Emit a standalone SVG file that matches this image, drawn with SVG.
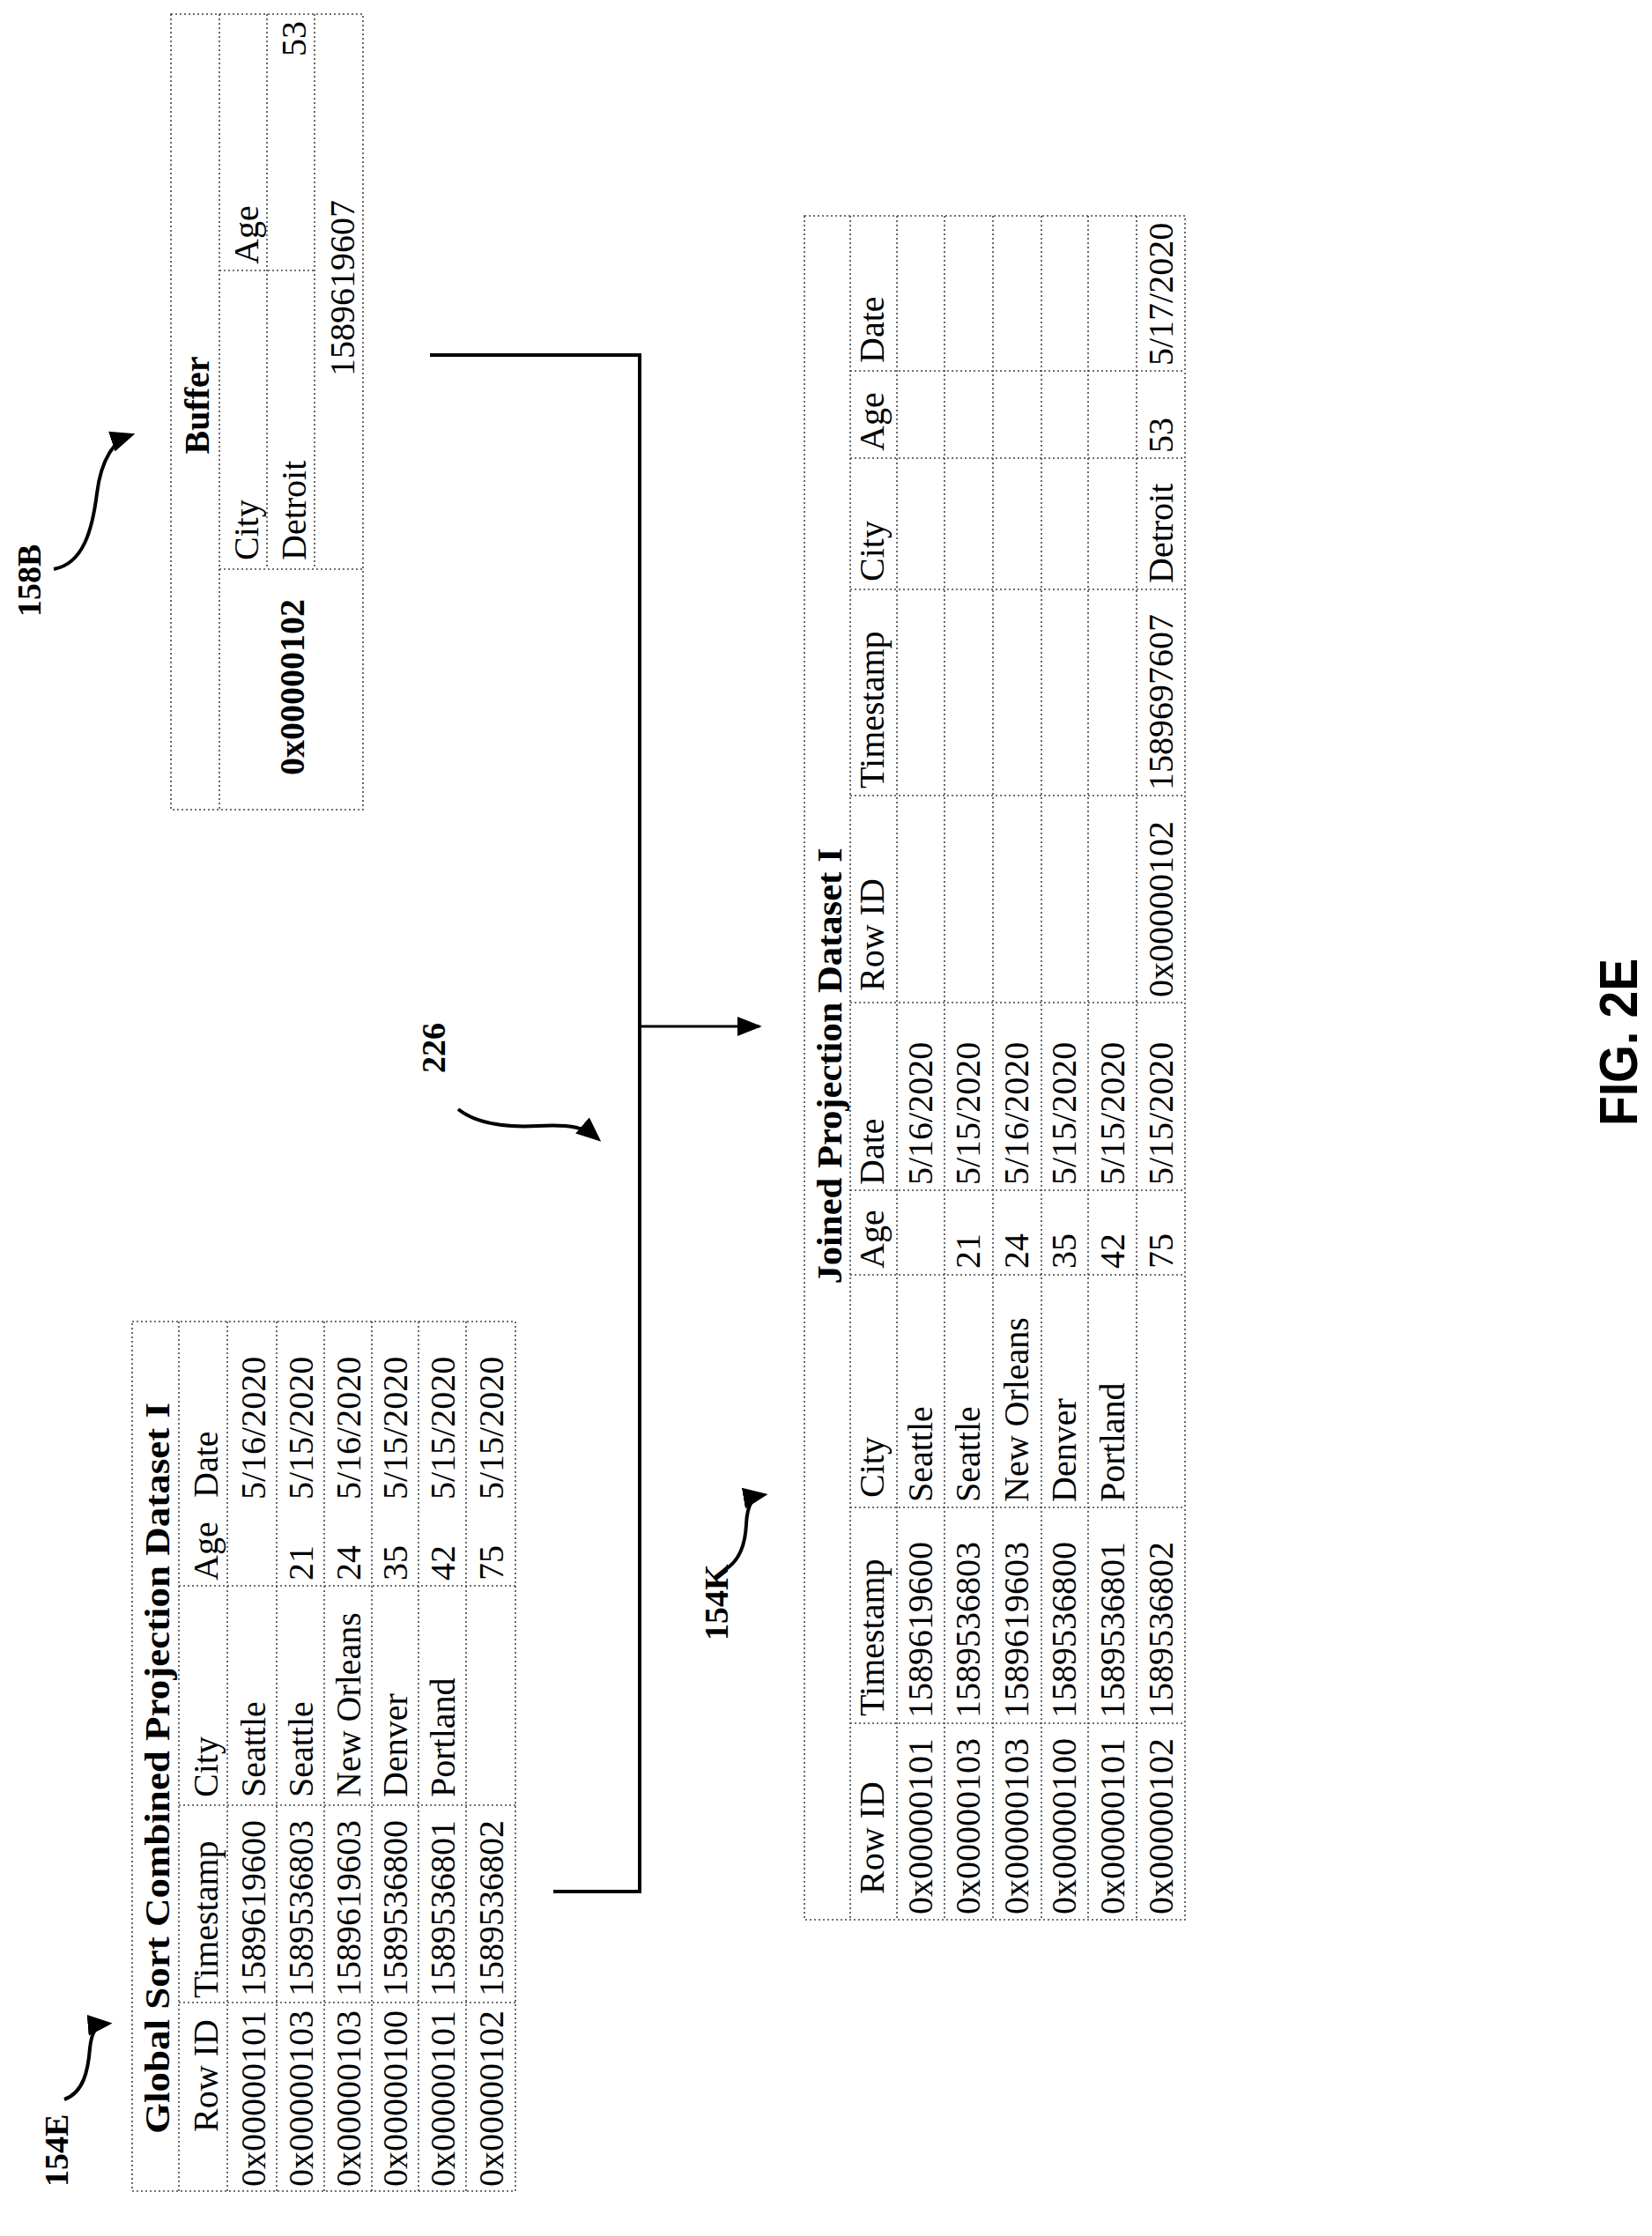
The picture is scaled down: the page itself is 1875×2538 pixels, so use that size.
<svg xmlns="http://www.w3.org/2000/svg" width="1875" height="2538" viewBox="0 0 1875 2538">
<style>
.t{font-family:"Liberation Serif",serif;font-size:40px;fill:#000}
.b{font-weight:bold}
.lbl{font-family:"Liberation Serif",serif;font-size:38px;font-weight:bold;fill:#000}
.g{stroke:#444;stroke-width:1.6;stroke-dasharray:2 3;fill:none}
.c{stroke:#000;stroke-width:4;fill:none}
.sq{stroke:#000;stroke-width:4;fill:none}
</style>
<defs>
<marker id="ah" viewBox="0 0 10 10" refX="9" refY="5" markerWidth="28" markerHeight="22" markerUnits="userSpaceOnUse" orient="auto" preserveAspectRatio="none">
<path d="M0,0 L10,5 L0,10 z" fill="#000"/>
</marker>
<marker id="ah2" viewBox="0 0 10 10" refX="8" refY="5" markerWidth="28" markerHeight="24" markerUnits="userSpaceOnUse" orient="auto" preserveAspectRatio="none">
<path d="M0,0 L10,5 L0,10 z" fill="#000"/>
</marker>
</defs>
<rect width="1875" height="2538" fill="#fff"/>

<g id="buffer-158B">
<rect class="g" x="194" y="16" width="218" height="903"/>
<line class="g" x1="249" y1="16" x2="249" y2="919"/>
<line class="g" x1="303" y1="16" x2="303" y2="646"/>
<line class="g" x1="357" y1="16" x2="357" y2="646"/>
<line class="g" x1="249" y1="307" x2="357" y2="307"/>
<line class="g" x1="249" y1="646" x2="412" y2="646"/>
<text class="t b" transform="translate(237,460) rotate(-90)" text-anchor="middle">Buffer</text>
<text class="t" transform="translate(293,636) rotate(-90)">City</text>
<text class="t" transform="translate(293,300) rotate(-90)">Age</text>
<text class="t b" transform="translate(345,780) rotate(-90)" text-anchor="middle">0x00000102</text>
<text class="t" transform="translate(347,636) rotate(-90)">Detroit</text>
<text class="t" transform="translate(347,24) rotate(-90)" text-anchor="end">53</text>
<text class="t" transform="translate(402,427) rotate(-90)">1589619607</text>
</g>

<g id="label-158B">
<text class="lbl" transform="translate(46,700) rotate(-90)">158B</text>
<path class="sq" d="M61,646 C95,640 105,600 110,560 C115,520 130,500 148,494" marker-end="url(#ah2)"/>
</g>

<g id="table-154E">
<rect class="g" x="150" y="1500" width="435" height="987"/>
<line class="g" x1="203" y1="1500" x2="203" y2="2487"/>
<line class="g" x1="258" y1="1500" x2="258" y2="2487"/>
<line class="g" x1="314" y1="1500" x2="314" y2="2487"/>
<line class="g" x1="368" y1="1500" x2="368" y2="2487"/>
<line class="g" x1="422" y1="1500" x2="422" y2="2487"/>
<line class="g" x1="475" y1="1500" x2="475" y2="2487"/>
<line class="g" x1="529" y1="1500" x2="529" y2="2487"/>
<line class="g" x1="203" y1="1800" x2="585" y2="1800"/>
<line class="g" x1="203" y1="2049" x2="585" y2="2049"/>
<line class="g" x1="203" y1="2273" x2="585" y2="2273"/>
<text class="t b" transform="translate(192,2007) rotate(-90)" text-anchor="middle" textLength="830" lengthAdjust="spacingAndGlyphs">Global Sort Combined Projection Dataset I</text>
<text class="t" transform="translate(247,2420) rotate(-90)">Row ID</text>
<text class="t" transform="translate(247,2268) rotate(-90)">Timestamp</text>
<text class="t" transform="translate(247,2040) rotate(-90)">City</text>
<text class="t" transform="translate(247,1794) rotate(-90)">Age</text>
<text class="t" transform="translate(247,1700) rotate(-90)">Date</text>
<text class="t" transform="translate(301,2482) rotate(-90)">0x00000101</text>
<text class="t" transform="translate(301,2266) rotate(-90)">1589619600</text>
<text class="t" transform="translate(301,2040) rotate(-90)">Seattle</text>
<text class="t" transform="translate(301,1702) rotate(-90)">5/16/2020</text>
<text class="t" transform="translate(355,2482) rotate(-90)">0x00000103</text>
<text class="t" transform="translate(355,2266) rotate(-90)">1589536803</text>
<text class="t" transform="translate(355,2040) rotate(-90)">Seattle</text>
<text class="t" transform="translate(355,1794) rotate(-90)">21</text>
<text class="t" transform="translate(355,1702) rotate(-90)">5/15/2020</text>
<text class="t" transform="translate(409,2482) rotate(-90)">0x00000103</text>
<text class="t" transform="translate(409,2266) rotate(-90)">1589619603</text>
<text class="t" transform="translate(409,2040) rotate(-90)">New Orleans</text>
<text class="t" transform="translate(409,1794) rotate(-90)">24</text>
<text class="t" transform="translate(409,1702) rotate(-90)">5/16/2020</text>
<text class="t" transform="translate(462,2482) rotate(-90)">0x00000100</text>
<text class="t" transform="translate(462,2266) rotate(-90)">1589536800</text>
<text class="t" transform="translate(462,2040) rotate(-90)">Denver</text>
<text class="t" transform="translate(462,1794) rotate(-90)">35</text>
<text class="t" transform="translate(462,1702) rotate(-90)">5/15/2020</text>
<text class="t" transform="translate(516,2482) rotate(-90)">0x00000101</text>
<text class="t" transform="translate(516,2266) rotate(-90)">1589536801</text>
<text class="t" transform="translate(516,2040) rotate(-90)">Portland</text>
<text class="t" transform="translate(516,1794) rotate(-90)">42</text>
<text class="t" transform="translate(516,1702) rotate(-90)">5/15/2020</text>
<text class="t" transform="translate(571,2482) rotate(-90)">0x00000102</text>
<text class="t" transform="translate(571,2266) rotate(-90)">1589536802</text>
<text class="t" transform="translate(571,1794) rotate(-90)">75</text>
<text class="t" transform="translate(571,1702) rotate(-90)">5/15/2020</text>
</g>

<g id="label-154E">
<text class="lbl" transform="translate(77,2482) rotate(-90)">154E</text>
<path class="sq" d="M73,2383 C95,2375 100,2350 102,2325 C104,2305 110,2298 122,2297" marker-end="url(#ah2)"/>
</g>

<g id="table-154K">
<rect class="g" x="913" y="245" width="432" height="1934"/>
<line class="g" x1="965" y1="245" x2="965" y2="2179"/>
<line class="g" x1="1018" y1="245" x2="1018" y2="2179"/>
<line class="g" x1="1072" y1="245" x2="1072" y2="2179"/>
<line class="g" x1="1127" y1="245" x2="1127" y2="2179"/>
<line class="g" x1="1182" y1="245" x2="1182" y2="2179"/>
<line class="g" x1="1235" y1="245" x2="1235" y2="2179"/>
<line class="g" x1="1290" y1="245" x2="1290" y2="2179"/>
<line class="g" x1="965" y1="421" x2="1345" y2="421"/>
<line class="g" x1="965" y1="520" x2="1345" y2="520"/>
<line class="g" x1="965" y1="669" x2="1345" y2="669"/>
<line class="g" x1="965" y1="903" x2="1345" y2="903"/>
<line class="g" x1="965" y1="1138" x2="1345" y2="1138"/>
<line class="g" x1="965" y1="1351" x2="1345" y2="1351"/>
<line class="g" x1="965" y1="1447" x2="1345" y2="1447"/>
<line class="g" x1="965" y1="1711" x2="1345" y2="1711"/>
<line class="g" x1="965" y1="1956" x2="1345" y2="1956"/>
<text class="t b" transform="translate(955,1210) rotate(-90)" text-anchor="middle" textLength="495" lengthAdjust="spacingAndGlyphs">Joined Projection Dataset I</text>
<text class="t" transform="translate(1003,2150) rotate(-90)">Row ID</text>
<text class="t" transform="translate(1003,1948) rotate(-90)">Timestamp</text>
<text class="t" transform="translate(1003,1700) rotate(-90)">City</text>
<text class="t" transform="translate(1003,1440) rotate(-90)">Age</text>
<text class="t" transform="translate(1003,1345) rotate(-90)">Date</text>
<text class="t" transform="translate(1003,1125) rotate(-90)">Row ID</text>
<text class="t" transform="translate(1003,895) rotate(-90)">Timestamp</text>
<text class="t" transform="translate(1003,660) rotate(-90)">City</text>
<text class="t" transform="translate(1003,512) rotate(-90)">Age</text>
<text class="t" transform="translate(1003,412) rotate(-90)">Date</text>
<text class="t" transform="translate(1058,2173) rotate(-90)">0x00000101</text>
<text class="t" transform="translate(1058,1950) rotate(-90)">1589619600</text>
<text class="t" transform="translate(1058,1705) rotate(-90)">Seattle</text>
<text class="t" transform="translate(1058,1345) rotate(-90)">5/16/2020</text>
<text class="t" transform="translate(1112,2173) rotate(-90)">0x00000103</text>
<text class="t" transform="translate(1112,1950) rotate(-90)">1589536803</text>
<text class="t" transform="translate(1112,1705) rotate(-90)">Seattle</text>
<text class="t" transform="translate(1112,1440) rotate(-90)">21</text>
<text class="t" transform="translate(1112,1345) rotate(-90)">5/15/2020</text>
<text class="t" transform="translate(1167,2173) rotate(-90)">0x00000103</text>
<text class="t" transform="translate(1167,1950) rotate(-90)">1589619603</text>
<text class="t" transform="translate(1167,1705) rotate(-90)">New Orleans</text>
<text class="t" transform="translate(1167,1440) rotate(-90)">24</text>
<text class="t" transform="translate(1167,1345) rotate(-90)">5/16/2020</text>
<text class="t" transform="translate(1221,2173) rotate(-90)">0x00000100</text>
<text class="t" transform="translate(1221,1950) rotate(-90)">1589536800</text>
<text class="t" transform="translate(1221,1705) rotate(-90)">Denver</text>
<text class="t" transform="translate(1221,1440) rotate(-90)">35</text>
<text class="t" transform="translate(1221,1345) rotate(-90)">5/15/2020</text>
<text class="t" transform="translate(1276,2173) rotate(-90)">0x00000101</text>
<text class="t" transform="translate(1276,1950) rotate(-90)">1589536801</text>
<text class="t" transform="translate(1276,1705) rotate(-90)">Portland</text>
<text class="t" transform="translate(1276,1440) rotate(-90)">42</text>
<text class="t" transform="translate(1276,1345) rotate(-90)">5/15/2020</text>
<text class="t" transform="translate(1331,2173) rotate(-90)">0x00000102</text>
<text class="t" transform="translate(1331,1950) rotate(-90)">1589536802</text>
<text class="t" transform="translate(1331,1440) rotate(-90)">75</text>
<text class="t" transform="translate(1331,1345) rotate(-90)">5/15/2020</text>
<text class="t" transform="translate(1331,1132) rotate(-90)">0x00000102</text>
<text class="t" transform="translate(1331,897) rotate(-90)">1589697607</text>
<text class="t" transform="translate(1331,662) rotate(-90)">Detroit</text>
<text class="t" transform="translate(1331,514) rotate(-90)">53</text>
<text class="t" transform="translate(1331,415) rotate(-90)">5/17/2020</text>
</g>

<g id="label-154K">
<text class="lbl" transform="translate(826,1862) rotate(-90)">154K</text>
<path class="sq" d="M822,1782 C840,1772 846,1752 847,1730 C848,1708 854,1699 866,1697" marker-end="url(#ah2)"/>
</g>

<g id="label-226">
<text class="lbl" transform="translate(505,1218) rotate(-90)">226</text>
<path class="sq" d="M520,1259 C540,1275 570,1280 610,1278 C650,1276 664,1280 678,1292" marker-end="url(#ah2)"/>
</g>

<g id="connectors">
<path class="c" d="M488,403 H726 V2147 H628"/>
<path class="c" d="M726,1165 H862" marker-end="url(#ah)" style="stroke-width:3"/>
</g>

<g id="fig-label">
<text transform="translate(1858,1183) rotate(-90)" text-anchor="middle" font-family="Liberation Sans, sans-serif" font-weight="bold" font-size="62" textLength="190" lengthAdjust="spacingAndGlyphs">FIG. 2E</text>
</g>
</svg>
